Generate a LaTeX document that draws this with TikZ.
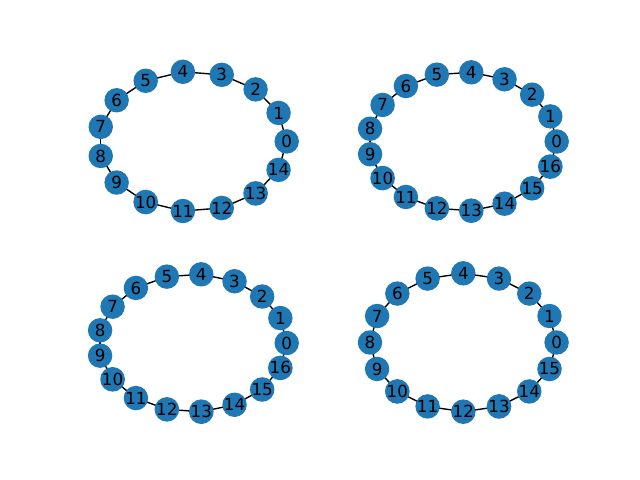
\documentclass[tikz,border=0pt]{standalone}
\usepackage{fontspec}
\setmainfont{DejaVu Sans}
\usepackage{xcolor}
\usepackage{tikz}
\usetikzlibrary{positioning, backgrounds}
\definecolor{nodeblue}{HTML}{1F77B4}
\tikzstyle{vertex} = [circle, minimum size=17.6pt, inner sep=0pt, fill=nodeblue, text=black, font=\fontsize{12}{14}\selectfont]
\tikzstyle{edge} = [line width=1pt, draw=black]

\begin{document}
\begin{tikzpicture}[x=0.72pt, y=-0.72pt]
        \useasboundingbox (0,0) rectangle (640,480);
        % Nodes (one ring per panel)
        \foreach \g/\n/\cx/\cy/\rx/\ry in {tl/15/192.7/141.4/94.0/70.0, tr/17/462.6/141.5/94.1/69.5, bl/17/192.6/343.0/94.1/69.0, br/16/463.3/342.5/93.3/69.2} {
            \pgfmathtruncatemacro{\last}{\n-1}
            \foreach \k in {0,...,\last} {
                \node [vertex] (\g\k) at ({\cx+\rx*cos(360*\k/\n)}, {\cy-\ry*sin(360*\k/\n)}) {\k};
            }
        }
        % Edges
        \begin{pgfonlayer}{background}
        \foreach \g/\n in {tl/15, tr/17, bl/17, br/16} {
            \pgfmathtruncatemacro{\last}{\n-1}
            \foreach \k in {0,...,\last} {
                \pgfmathtruncatemacro{\nxt}{mod(\k+1,\n)}
                \draw [edge] (\g\k.center) -- (\g\nxt.center);
            }
        }
        \end{pgfonlayer}
\end{tikzpicture}
\end{document}
